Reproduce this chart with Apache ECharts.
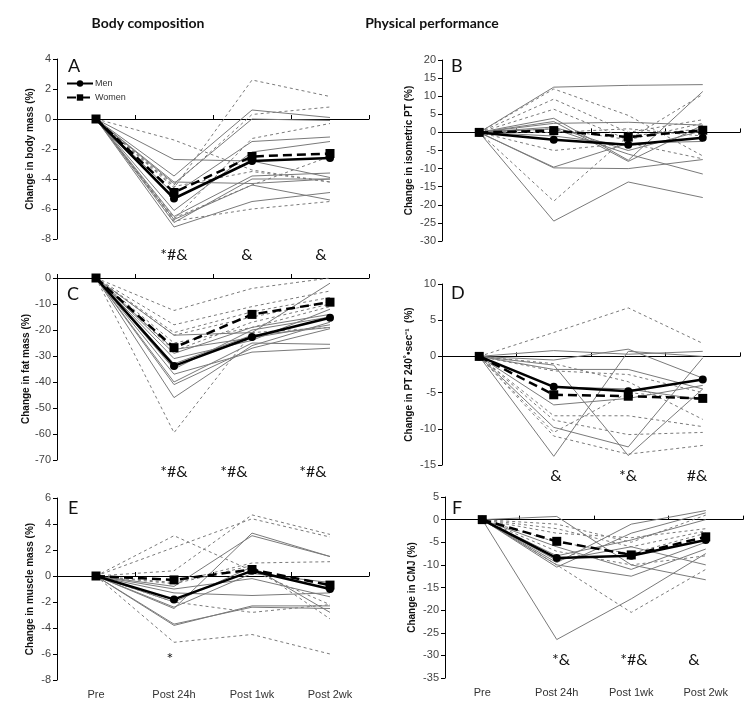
<!DOCTYPE html>
<html><head><meta charset="utf-8">
<script src="https://cdn.jsdelivr.net/npm/echarts@6/dist/echarts.min.js"></script>
<style>html,body{margin:0;padding:0;background:#fff}#c{width:745px;height:706px}</style>
</head><body><div id="c"></div>
<script>
// ---------- DATA ----------
const categories = ['Pre', 'Post 24h', 'Post 1wk', 'Post 2wk'];

// A: body mass (%)
const bodyMassMen = [
  [0, -2.7, -2.8, -3.9], [0, -3.8, 0.6, 0.1], [0, -4.3, 0.0, -0.1], [0, -5.0, -1.5, -1.2],
  [0, -6.1, -2.2, -1.5], [0, -6.5, -3.8, -3.6], [0, -6.9, -4.0, -4.0], [0, -7.2, -5.5, -4.9],
  [0, -6.7, -4.4, -5.4], [0, -4.2, -4.3, -4.0]
];
const bodyMassWomen = [
  [0, -4.6, 2.6, 1.5], [0, -4.4, 0.3, 0.8], [0, -1.4, -3.4, -4.2], [0, -6.7, -1.3, -0.3],
  [0, -6.6, -4.4, -2.5], [0, -6.8, -6.0, -5.5], [0, -4.5, -3.5, -4.2]
];
const bodyMassMenMean = [0, -5.3, -2.8, -2.6];
const bodyMassWomenMean = [0, -4.9, -2.5, -2.3];

// B: isometric PT (%)
const isoPTMen = [
  [0, 12.5, 13.0, 13.2], [0, 3.9, -7.7, 11.3], [0, 2.5, 2.8, 2.0], [0, -9.8, -10.0, -7.5],
  [0, -9.6, -3.0, -2.5], [0, -24.5, -13.7, -18.0], [0, 1.0, -6.0, -11.5], [0, 1.5, -5.0, 0.5],
  [0, -1.0, -3.5, -1.5], [0, 3.0, -8.0, 2.0]
];
const isoPTWomen = [
  [0, 12.0, 4.7, -6.5], [0, 9.2, 0.0, 3.5], [0, 6.4, -2.0, 10.5], [0, -5.0, -3.0, -7.3],
  [0, -19.0, -1.0, 1.0], [0, 1.0, -2.0, 2.5], [0, 0.0, 1.0, -1.0]
];
const isoPTMenMean = [0, -2.0, -3.4, -1.5];
const isoPTWomenMean = [0, 0.5, -1.3, 0.6];

// C: fat mass (%)
const fatMassMen = [
  [0, -22, -21, -2], [0, -31, -24, -12], [0, -37, -28.5, -27], [0, -40, -25, -25.5],
  [0, -46, -26, -17], [0, -33, -22, -19], [0, -35, -20, -15], [0, -41, -27, -19.5],
  [0, -29, -19, -14], [0, -27.5, -23, -18]
];
const fatMassWomen = [
  [0, -12.5, -4, 0], [0, -18, -11, -5], [0, -21, -13, -7.5], [0, -59.5, -21, -19],
  [0, -25, -19, -11], [0, -28, -17, -10], [0, -22, -15, -9]
];
const fatMassMenMean = [0, -33.8, -22.7, -15.3];
const fatMassWomenMean = [0, -26.8, -14.0, -9.3];

// D: PT 240°/s (%)
const pt240Men = [
  [0, 0.8, 0.3, 0.7], [0, -0.5, 1.0, -3.0], [0, -1.8, -1.8, -4.5], [0, -6.7, -5.8, -4.0],
  [0, -9.8, -12.5, -0.2], [0, -13.8, 0.7, 0.0], [0, -1.2, -13.7, -4.5], [0, -4.2, -4.5, -6.0]
];
const pt240Women = [
  [0, 3.3, 6.7, 1.8], [0, -1.0, -3.5, -8.7], [0, -8.2, -8.2, -9.7], [0, -8.8, -10.8, -10.5],
  [0, -11.0, -13.5, -12.3], [0, -10.5, -5.0, -6.0], [0, -2.0, -2.5, -5.0]
];
const pt240MenMean = [0, -4.2, -4.8, -3.2];
const pt240WomenMean = [0, -5.3, -5.5, -5.8];

// E: muscle mass (%)
const muscleMen = [
  [0, -2.5, 3.3, 1.5], [0, -0.8, 3.1, 1.5], [0, -3.8, -2.3, -2.3], [0, -3.7, -2.4, -2.5],
  [0, -1.3, -1.5, -1.3], [0, -2.0, 0.7, -2.8], [0, -1.0, -0.2, -1.6], [0, -2.4, 0.2, -0.5]
];
const muscleWomen = [
  [0, 3.1, 0.4, -2.2], [0, 2.2, 4.4, 3.0], [0, 0.4, 4.7, 3.2], [0, -5.1, -4.5, -6.0],
  [0, -2.0, -2.8, -2.2], [0, -0.5, 1.0, 1.1], [0, -0.6, 0.8, -3.3]
];
const muscleMenMean = [0, -1.8, 0.4, -1.0];
const muscleWomenMean = [0, -0.3, 0.5, -0.7];

// F: CMJ (%)
const cmjMen = [
  [0, 0.7, -10, -13.3], [0, -26.5, -17.5, -7.5], [0, -9.5, -1, 2], [0, -10, -12.5, -6.5],
  [0, -10.5, -3, 1.5], [0, -9, -6, -10], [0, -8, -4.5, 0], [0, -6, -11, -5]
];
const cmjWomen = [
  [0, -1, -5, 1], [0, -10, -20.5, -11], [0, -3, -4, -2], [0, -7, -10, -8],
  [0, -5, -7.5, -3], [0, -2, -6, -2.5]
];
const cmjMenMean = [0, -8.5, -8.0, -4.5];
const cmjWomenMean = [0, -4.8, -7.8, -3.8];

// Axis ranges / titles
const yTitles = ['Change in body mass (%)', 'Change in isometric PT (%)', 'Change in fat mass (%)',
  'Change in PT 240\u02da\u2022sec\u207b\u00b9  (%)', 'Change in muscle mass (%)', 'Change in CMJ (%)'];
const yMin = [-8, -30, -70, -15, -8, -35];
const yMax = [4, 20, 0, 10, 6, 5];
const yStep = [2, 5, 10, 5, 2, 5];
const panelLetters = ['A', 'B', 'C', 'D', 'E', 'F'];
const columnTitles = ['Body composition', 'Physical performance'];
const annotations = [
  ['*#&', 174, 255], ['&', 247, 255], ['&', 321, 255],
  ['*#&', 174, 472], ['*#&', 234, 472], ['*#&', 313, 472],
  ['*', 170, 659],
  ['&', 556, 476], ['*&', 628, 476], ['#&', 697, 476],
  ['*&', 561, 660], ['*#&', 634, 660], ['&', 694, 660]
];

// ---------- LAYOUT ----------
const grids = [
  {left: 57, top: 59, width: 312, height: 180},
  {left: 442, top: 60, width: 298, height: 181},
  {left: 57, top: 278, width: 312, height: 182},
  {left: 442, top: 284, width: 298, height: 181},
  {left: 57, top: 498, width: 312, height: 182},
  {left: 445, top: 497, width: 298, height: 181}
];
const nameGaps = [22, 28, 25, 28, 22, 28];
const letterPos = [[68, 66], [451, 66], [67, 294], [451, 293], [68, 508], [452, 508]];

const panels = [
  [bodyMassMen, bodyMassWomen, bodyMassMenMean, bodyMassWomenMean],
  [isoPTMen, isoPTWomen, isoPTMenMean, isoPTWomenMean],
  [fatMassMen, fatMassWomen, fatMassMenMean, fatMassWomenMean],
  [pt240Men, pt240Women, pt240MenMean, pt240WomenMean],
  [muscleMen, muscleWomen, muscleMenMean, muscleWomenMean],
  [cmjMen, cmjWomen, cmjMenMean, cmjWomenMean]
];

const FONT = '"Liberation Sans", Arial, sans-serif';
const xAxis = [], yAxis = [], series = [];
grids.forEach((g, i) => {
  xAxis.push({
    type: 'category', gridIndex: i, data: categories, position: 'bottom',
    axisLine: {onZero: true, lineStyle: {color: '#000', width: 1}},
    axisTick: {show: true, inside: true, length: 4, lineStyle: {color: '#000'}},
    axisLabel: {show: false}, splitLine: {show: false}
  });
  yAxis.push({
    type: 'value', gridIndex: i, min: yMin[i], max: yMax[i], interval: yStep[i],
    name: yTitles[i], nameLocation: 'middle', nameGap: nameGaps[i],
    nameTextStyle: {fontFamily: FONT, fontWeight: 'bold', fontSize: 10, color: '#111'},
    axisLine: {show: true, lineStyle: {color: '#000', width: 1}},
    axisTick: {show: true, length: 4, lineStyle: {color: '#000'}},
    axisLabel: {fontFamily: FONT, fontSize: 11, color: '#444', margin: 6},
    splitLine: {show: false}
  });
});
[4, 5].forEach(i => {
  xAxis.push({
    type: 'category', gridIndex: i, data: categories, position: 'bottom',
    axisLine: {show: false, onZero: false}, axisTick: {show: false},
    axisLabel: {fontFamily: FONT, fontSize: 11, color: '#333', margin: 9}
  });
});

panels.forEach((p, i) => {
  const [men, women, menMean, womenMean] = p;
  men.forEach(d => series.push({
    type: 'line', xAxisIndex: i, yAxisIndex: i, data: d, symbol: 'none', silent: true, z: 2,
    lineStyle: {color: '#7a7a7a', width: 1}
  }));
  women.forEach(d => series.push({
    type: 'line', xAxisIndex: i, yAxisIndex: i, data: d, symbol: 'none', silent: true, z: 2,
    lineStyle: {color: '#7a7a7a', width: 1, type: [3, 3]}
  }));
  series.push({
    name: 'Men', type: 'line', xAxisIndex: i, yAxisIndex: i, data: menMean, z: 5,
    symbol: 'circle', symbolSize: 8, itemStyle: {color: '#000'},
    lineStyle: {color: '#000', width: 2.5}
  });
  series.push({
    name: 'Women', type: 'line', xAxisIndex: i, yAxisIndex: i, data: womenMean, z: 6,
    symbol: 'rect', symbolSize: 9, itemStyle: {color: '#000'},
    lineStyle: {color: '#000', width: 2.5, type: [9, 5]}
  });
});

const graphic = [];
panelLetters.forEach((t, i) => graphic.push({
  type: 'text', left: letterPos[i][0], top: letterPos[i][1] - 9,
  style: {text: t, fontFamily: 'Lato, sans-serif', fontSize: 18, fill: '#111'}
}));
annotations.forEach(a => graphic.push({
  type: 'text', x: a[1], y: a[2],
  style: {text: a[0], fontFamily: 'Lato, sans-serif', fontSize: 16, fill: '#111',
          align: 'center', verticalAlign: 'middle'}
}));

const chart = echarts.init(document.getElementById('c'), null, {renderer: 'canvas'});
chart.setOption({
  animation: false,
  backgroundColor: '#fff',
  title: [
    {text: columnTitles[0], left: 143, top: 11, textAlign: 'center',
     textStyle: {fontFamily: 'Lato, sans-serif', fontWeight: 'bold', fontSize: 14, color: '#111'}},
    {text: columnTitles[1], left: 427, top: 11, textAlign: 'center',
     textStyle: {fontFamily: 'Lato, sans-serif', fontWeight: 'bold', fontSize: 14, color: '#111'}}
  ],
  legend: {
    data: ['Men', 'Women'], orient: 'vertical', left: 66, top: 79, padding: 0,
    itemWidth: 26, itemHeight: 8, itemGap: 5, selectedMode: false,
    textStyle: {fontFamily: FONT, fontSize: 9, color: '#333', padding: [0, 0, 0, -3]}
  },
  grid: grids,
  xAxis: xAxis,
  yAxis: yAxis,
  series: series,
  graphic: graphic
});
</script>
</body></html>
